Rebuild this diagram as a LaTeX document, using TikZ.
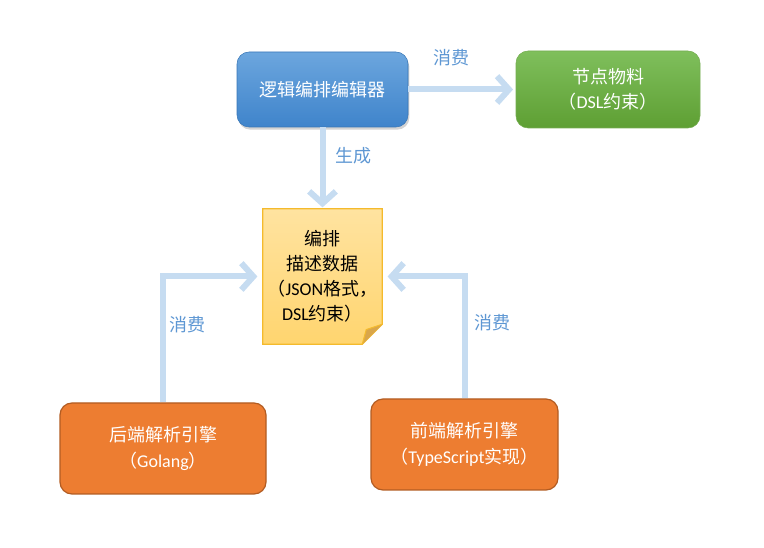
\documentclass[tikz,border=0pt]{standalone}
\usepackage{fontspec}
\setmainfont{Carlito}
\newfontfamily\cjk{Noto Sans CJK SC}
\usepackage{xcolor}
\usetikzlibrary{arrows.meta}
\usetikzlibrary{shadows}
\usetikzlibrary{backgrounds}
\newcommand\zh[1]{{\cjk #1}}
\definecolor{edtop}{HTML}{6CA6DE}
\definecolor{edbot}{HTML}{3F84CB}
\definecolor{mattop}{HTML}{7FBF5C}
\definecolor{matbot}{HTML}{5E9F33}
\definecolor{engfill}{HTML}{ED7D31}
\definecolor{engline}{HTML}{B25C22}
\definecolor{notetop}{HTML}{FFE3A0}
\definecolor{notebot}{HTML}{FFD56F}
\definecolor{noteline}{HTML}{F4BA2C}
\definecolor{notefold}{HTML}{D9A64A}
\definecolor{flow}{HTML}{C6DCF1}
\definecolor{flowtxt}{HTML}{5E97D3}
\tikzstyle{box}=[rounded corners=9pt,align=center,text=white,font=\fontsize{13.5}{19}\selectfont,inner sep=0pt]
\tikzstyle{editor}=[box,top color=edtop,bottom color=edbot,draw=edbot!90!black,line width=.4pt,
  drop shadow={opacity=.35,shadow xshift=1pt,shadow yshift=-2pt},minimum width=128.25pt,minimum height=56.25pt]
\tikzstyle{material}=[box,top color=mattop,bottom color=matbot,draw=matbot!85!white,line width=.4pt,minimum width=138pt,minimum height=57.75pt]
\tikzstyle{engine}=[box,fill=engfill,draw=engline,line width=.9pt,minimum height=68.25pt]
\tikzstyle{note}=[align=center,text=black,font=\fontsize{13.5}{18.75}\selectfont,minimum width=89.25pt,minimum height=101.25pt,inner sep=0pt]
\tikzstyle{flowhead}=[>/.tip={Straight Barb[length=9pt,width=20pt,line width=4.5pt]}]
\tikzstyle{flowarr}=[line width=4.5pt,draw=flow,flowhead,->]
\tikzstyle{flowlbl}=[text=flowtxt,font=\fontsize{13.5}{16}\selectfont]

\begin{document}
\begin{tikzpicture}[x=0.75pt,y=-0.75pt]
	\useasboundingbox (0,0) rectangle (764,548);
	\node[editor] (edit) at (322.5,89.5) {\zh{逻辑编排编辑器}};
	\node[material] (mat) at (608,89.5) {\zh{节点物料}\\\zh{（}DSL\zh{约束）}};
	\node[note] (desc) at (322.5,276.5) {\zh{编排}\\\zh{描述数据}\\\zh{（}JSON\zh{格式，}\\DSL\zh{约束）}};
	\node[engine,minimum width=154.5pt] (back) at (163,448.5) {\zh{后端解析引擎}\\\zh{（}Golang\zh{）}};
	\node[engine,minimum width=140.25pt] (front) at (464.5,444.5) {\zh{前端解析引擎}\\\zh{（}TypeScript\zh{实现）}};
	% note sheet with folded corner
	\begin{scope}[on background layer]
	\shade[top color=notetop,bottom color=notebot,draw=noteline,line width=.8pt]
	  (desc.north west) -- (desc.north east) -- ([yshift=15pt]desc.south east)
	  -- ([xshift=-15pt]desc.south east) -- (desc.south west) -- cycle;
	\draw[fill=notefold,draw=noteline,line width=.8pt]
	  ([yshift=15pt]desc.south east) -- ([xshift=-12pt,yshift=11pt]desc.south east) -- ([xshift=-15pt]desc.south east);
	\end{scope}
	% flows
	\draw[flowarr,shorten >=2pt] (edit) -- node[flowlbl,above=12pt,pos=.4] (l1) {\zh{消费}} (mat);
	\draw[flowarr,shorten >=1pt] (edit) -- node[flowlbl,right=4pt,pos=.35] (l2) {\zh{生成}} (desc);
	\draw[flowarr,shorten >=4pt] (back) |- node[flowlbl,right=-1pt,pos=.31] (l3) {\zh{消费}} (desc);
	\draw[flowarr,shorten >=4pt] (front) |- node[flowlbl,right=2pt,pos=.31] (l4) {\zh{消费}} (desc);
\end{tikzpicture}
\end{document}
